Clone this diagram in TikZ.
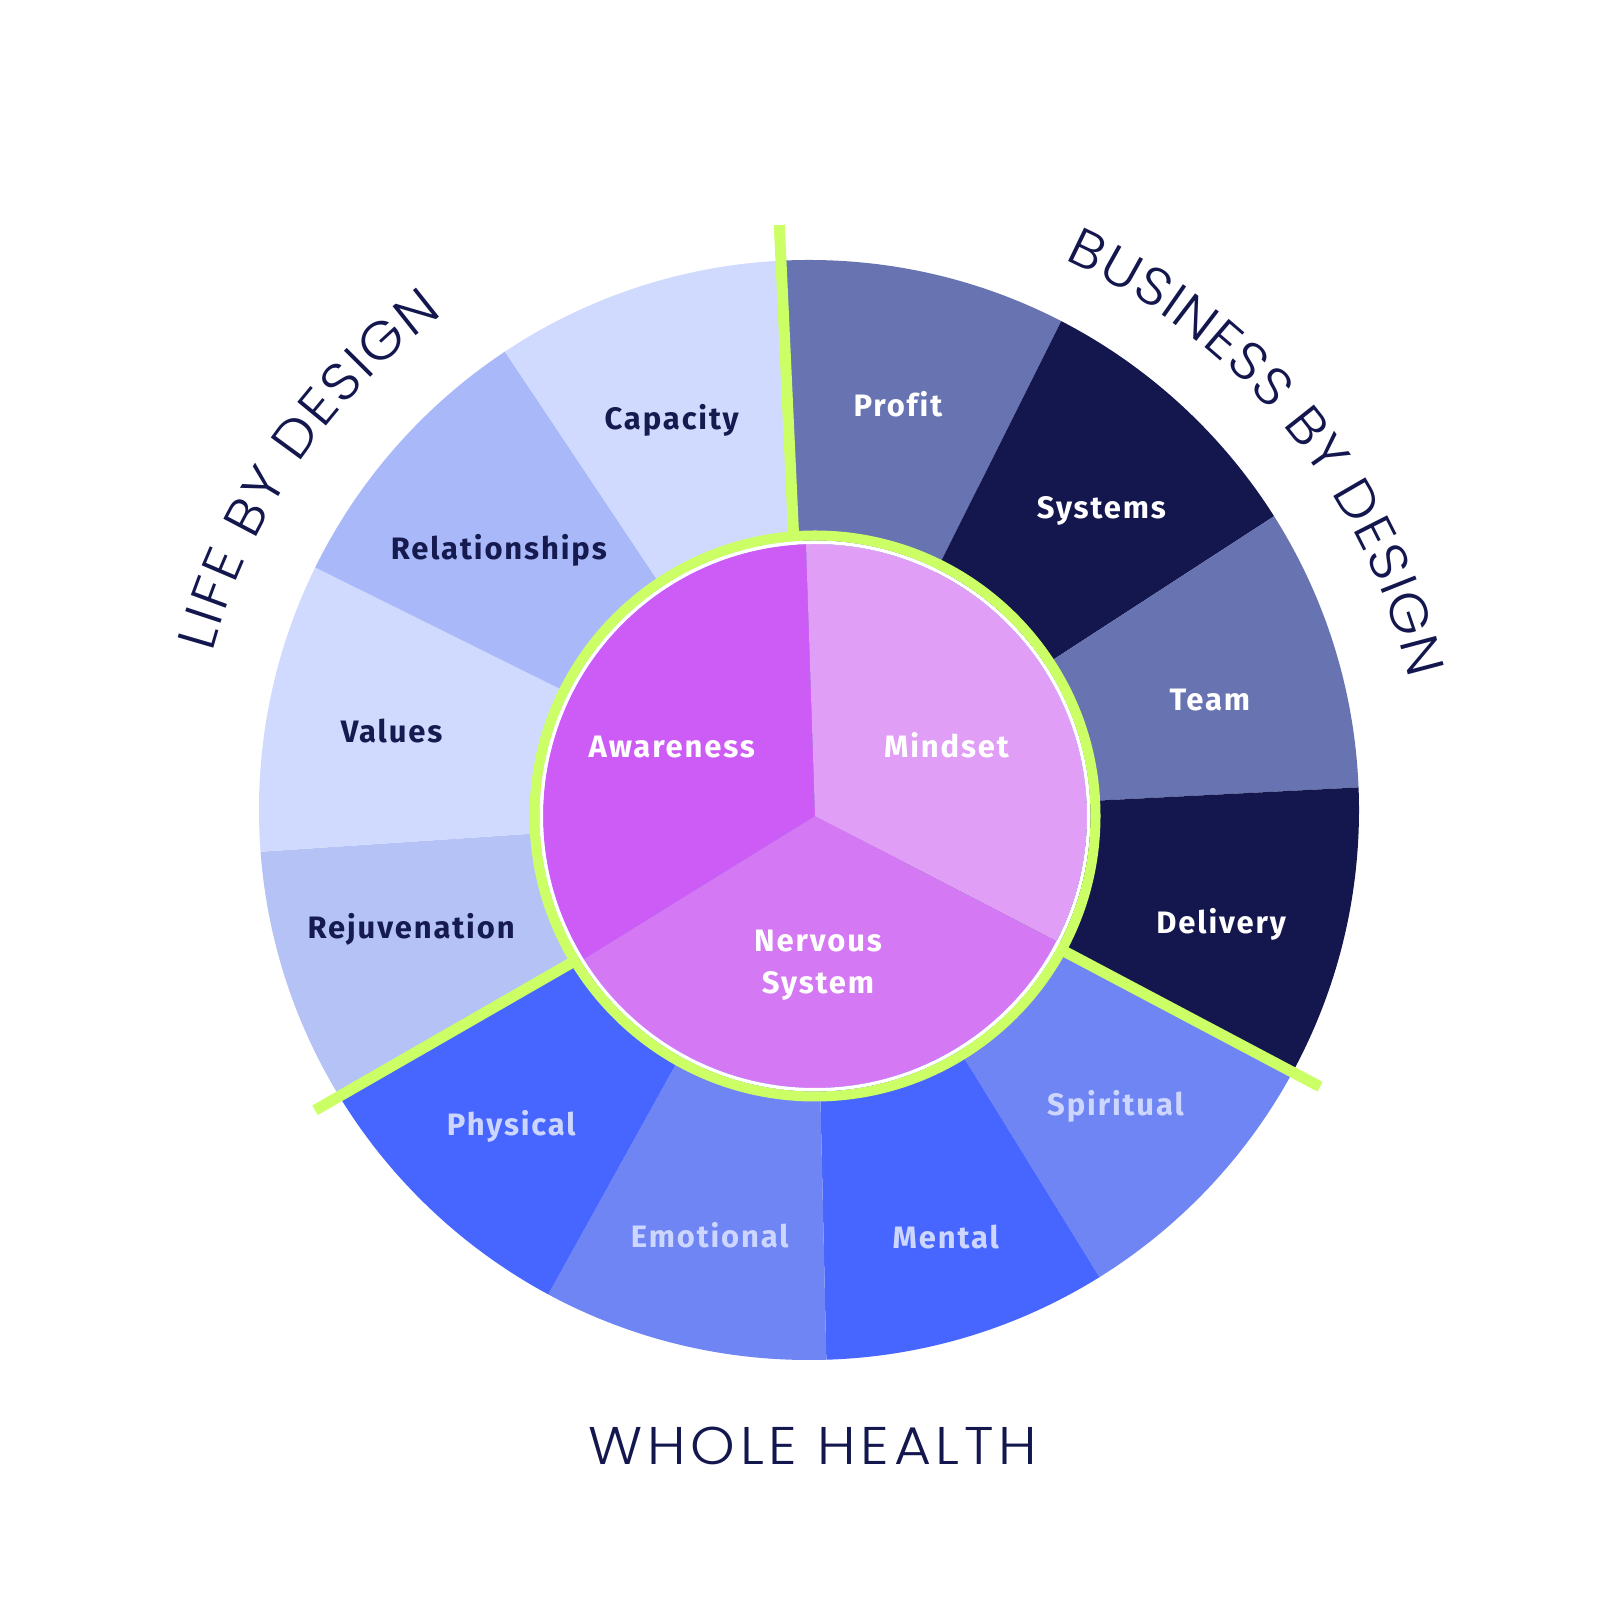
\documentclass[tikz,border=0pt]{standalone}
\usepackage{fontspec}
\usetikzlibrary{calc,decorations.text}
\newfontfamily\labfont[LetterSpace=6,Ligatures=NoCommon]{Fira Sans}
\newfontfamily\ttlfont[FakeStretch=1.07]{Poppins Light}
\newfontfamily\ttlfontsp[FakeStretch=1.07,LetterSpace=9]{Poppins Light}
\definecolor{cLight}{RGB}{208,217,254}
\definecolor{cRel}{RGB}{169,184,249}
\definecolor{cRej}{RGB}{180,194,246}
\definecolor{cMid}{RGB}{103,116,177}
\definecolor{cDark}{RGB}{19,23,78}
\definecolor{cSoft}{RGB}{110,133,243}
\definecolor{cBlue}{RGB}{71,102,255}
\definecolor{cAware}{RGB}{204,92,245}
\definecolor{cMind}{RGB}{225,158,246}
\definecolor{cNerv}{RGB}{212,120,244}
\definecolor{cLime}{RGB}{204,255,102}
\definecolor{tDark}{RGB}{21,26,79}
\definecolor{tLav}{RGB}{205,214,255}
\definecolor{ttl}{RGB}{19,23,78}
\tikzset{
  lab/.style={anchor=base, inner sep=0pt, font=\labfont\bfseries\fontsize{31}{36}\selectfont},
  seg/.style={fill=#1},
  spoke/.style={draw=cLime, line width=11pt, line cap=butt},
}
\begin{document}
\begin{tikzpicture}[x=1pt,y=1pt]
\useasboundingbox (0,0) rectangle (1620,1620);
\fill[white] (0,0) rectangle (1620,1620);
\coordinate (C) at (814,805);
\coordinate (P) at (815,804);
\coordinate (O) at (809,810);
% outer ring
\begin{scope}
\clip (O) circle (550);
\foreach \a/\b/\c in {63.4/93.6/cMid, 33.0/63.4/cDark, 2.9/33.0/cMid, -28/2.9/cDark,
  -58.3/-28/cSoft, -88.7/-58.3/cBlue, -119.0/-88.7/cSoft, -149.2/-119.0/cBlue,
  183.8/210.8/cRej, 153.6/183.8/cLight, 123.7/153.6/cRel, 93.6/123.7/cLight}{
  \fill[seg=\c] (C) -- ($(C)+(\a:800)$) -- ($(C)+(\b:800)$) -- cycle;
}
\end{scope}
% spokes
\coordinate (s1a) at (793.8,1080);
\coordinate (s1b) at (779.3,1395);
\coordinate (s2a) at (1052.9,674.7);
\coordinate (s2b) at (1320,533.3);
\coordinate (s3a) at (575.7,659.6);
\coordinate (s3b) at (315,509.7);
\draw[spoke] (s1a) -- (s1b);
\draw[spoke] (s2a) -- (s2b);
\draw[spoke] (s3a) -- (s3b);
% inner pie
\fill[cAware] (P) -- ($(P)+(91.9:272)$) arc[start angle=91.9, end angle=211.75, radius=272] -- cycle;
\fill[cNerv] (P) -- ($(P)+(211.75:272)$) arc[start angle=211.75, end angle=332.6, radius=272] -- cycle;
\fill[cMind] (P) -- ($(P)+(-27.4:272)$) arc[start angle=-27.4, end angle=91.9, radius=272] -- cycle;
\draw[white, line width=3.5pt] (P) circle (273.75);
\draw[cLime, line width=10pt] (P) circle (280.5);
% labels
\node[lab, text=tDark] (capacity) at (671.7,1190.7) {Capacity};
\node[lab, text=tDark] (relationships) at (498.8,1060.7) {Relationships};
\node[lab, text=tDark] (values) at (391.6,877.5) {Values};
\node[lab, text=tDark] (rejuvenation) at (411.2,681.2) {Rejuvenation};
\node[lab, text=white] (profit) at (897.9,1203) {Profit};
\node[lab, text=white] (systems) at (1101.3,1101.7) {Systems};
\node[lab, text=white] (team) at (1209.9,909.5) {Team};
\node[lab, text=white] (delivery) at (1221.2,686.7) {Delivery};
\node[lab, text=tLav] (spiritual) at (1115.5,504.3) {Spiritual};
\node[lab, text=tLav] (mental) at (945.7,371.7) {Mental};
\node[lab, text=tLav] (emotional) at (709.8,372) {Emotional};
\node[lab, text=tLav] (physical) at (511.3,484) {Physical};
\node[lab, text=white] (awareness) at (671.8,862.8) {Awareness};
\node[lab, text=white] (mindset) at (946.5,862.8) {Mindset};
\node[lab, text=white] (nervous) at (818,668.4) {Nervous};
\node[lab, text=white] (system) at (818,626.3) {System};
% titles
\path[decorate, decoration={text along path, text color=ttl, text align=fit to path,
  text={|\ttlfont\fontsize{53}{60}\selectfont|BUSINESS BY DESIGN}}]
  ($(P)+(65.8:609.5)$) arc[start angle=65.8, end angle=13.0, radius=609.5];
\path[decorate, decoration={text along path, text color=ttl, text align=fit to path,
  text={|\ttlfont\fontsize{53}{60}\selectfont|LIFE BY DESIGN}}]
  ($(P)+(164.8:624.5)$) arc[start angle=164.8, end angle=126.6, radius=624.5];
\node[anchor=base, inner sep=0pt, text=ttl, font=\ttlfontsp\fontsize{53}{60}\selectfont] (whole) at (813,155) {WHOLE HEALTH};
\end{tikzpicture}
\end{document}
